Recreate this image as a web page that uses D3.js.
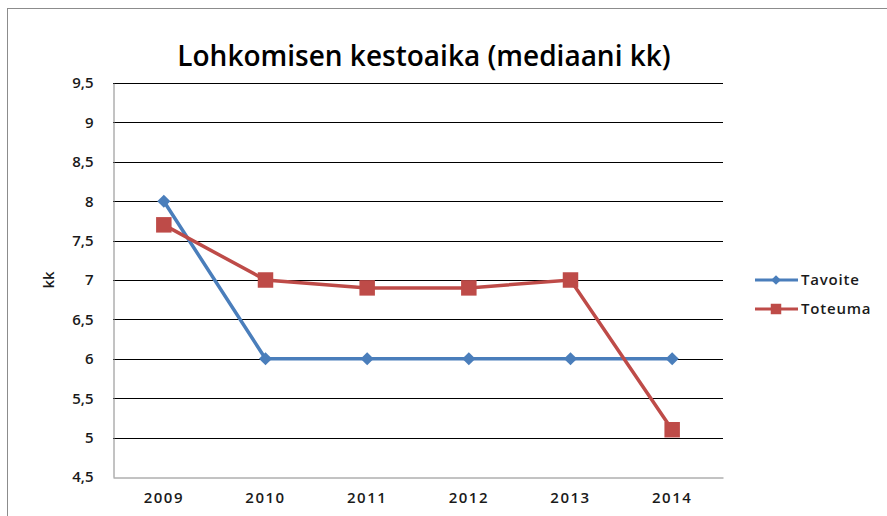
<!DOCTYPE html>
<html>
<head>
<meta charset="utf-8">
<script src="https://cdn.jsdelivr.net/npm/d3@7"></script>
<style>
  body { margin: 0; background: #fff; }
  svg { display: block; }
</style>
</head>
<body>
<div id="output"></div>
<script>
var years = ['2009', '2010', '2011', '2012', '2013', '2014'];
var tavoite = [8, 6, 6, 6, 6, 6];
var toteuma = [7.7, 7.0, 6.9, 6.9, 7.0, 5.1];
var yTicks = [4.5, 5, 5.5, 6, 6.5, 7, 7.5, 8, 8.5, 9, 9.5];

var width = 887;
var height = 516;
var font = "'Open Sans', 'DejaVu Sans', sans-serif";

var svg = d3.select('#output')
  .append('svg')
  .attr('width', width)
  .attr('height', height);

// outer chart border (runs off the right/bottom of the window)
svg.append('rect')
  .attr('x', 7.5).attr('y', 8.5)
  .attr('width', 900).attr('height', 600)
  .attr('fill', 'none')
  .attr('stroke', '#8c8c8c');

var xScale = d3.scaleBand()
  .domain(years)
  .range([113, 723]);

var yScale = d3.scaleLinear()
  .domain([4.5, 9.5])
  .range([477, 83]);

// gridlines
svg.append('g')
  .selectAll('line')
  .data(yTicks.slice(1))
  .enter()
  .append('line')
  .attr('x1', 113).attr('x2', 723)
  .attr('y1', (d) => Math.round(yScale(d)) + 0.5)
  .attr('y2', (d) => Math.round(yScale(d)) + 0.5)
  .attr('stroke', '#000');

// y axis
var yAxis = d3.axisLeft(yScale)
  .tickValues(yTicks)
  .tickSize(0)
  .tickPadding(20)
  .tickFormat((d) => String(d).replace('.', ','));

var gy = svg.append('g')
  .attr('transform', 'translate(113.5, 0)')
  .call(yAxis);
gy.select('.domain').attr('stroke', '#868686');
gy.selectAll('text')
  .attr('font-family', font)
  .attr('font-size', 15)
  .attr('font-weight', 600)
  .attr('fill', '#1a1a1a');

// x axis
var xAxis = d3.axisBottom(xScale).tickSize(0).tickPadding(15);
var gx = svg.append('g')
  .attr('transform', 'translate(0, 477.5)')
  .call(xAxis);
gx.select('.domain').attr('stroke', '#868686');
gx.selectAll('text')
  .attr('font-family', font)
  .attr('font-size', 15)
  .attr('font-weight', 600)
  .attr('letter-spacing', 1.5)
  .attr('fill', '#1a1a1a');

// title
svg.append('text')
  .attr('x', 424).attr('y', 66)
  .attr('text-anchor', 'middle')
  .attr('font-family', font)
  .attr('font-size', 28)
  .attr('font-weight', 600)
  .attr('fill', '#000')
  .text('Lohkomisen kestoaika (mediaani kk)');

// y axis title
svg.append('text')
  .attr('transform', 'translate(54, 280) rotate(-90)')
  .attr('text-anchor', 'middle')
  .attr('font-family', font)
  .attr('font-size', 15)
  .attr('font-weight', 600)
  .attr('fill', '#1a1a1a')
  .text('kk');

var cx = (d, i) => xScale(years[i]) + xScale.bandwidth() / 2;
var line = d3.line().x(cx).y((d) => yScale(d));

var blue = '#4a7ebb';
var red = '#be4b48';

svg.append('path')
  .datum(tavoite)
  .attr('d', line)
  .attr('fill', 'none')
  .attr('stroke', blue)
  .attr('stroke-width', 3.5);

svg.append('path')
  .datum(toteuma)
  .attr('d', line)
  .attr('fill', 'none')
  .attr('stroke', red)
  .attr('stroke-width', 3.5);

var diamond = d3.symbol().type(d3.symbolDiamond2).size(110);
var square = d3.symbol().type(d3.symbolSquare).size(240);

svg.append('g')
  .selectAll('path')
  .data(tavoite)
  .enter()
  .append('path')
  .attr('d', diamond)
  .attr('transform', (d, i) => 'translate(' + cx(d, i) + ',' + yScale(d) + ')')
  .attr('fill', blue);

svg.append('g')
  .selectAll('path')
  .data(toteuma)
  .enter()
  .append('path')
  .attr('d', square)
  .attr('transform', (d, i) => 'translate(' + cx(d, i) + ',' + yScale(d) + ')')
  .attr('fill', red);

// legend
var legend = [
  { name: 'Tavoite', color: blue, sym: d3.symbol().type(d3.symbolDiamond2).size(60), y: 280 },
  { name: 'Toteuma', color: red, sym: d3.symbol().type(d3.symbolSquare).size(110), y: 309 }
];
var lg = svg.append('g')
  .selectAll('g')
  .data(legend)
  .enter()
  .append('g')
  .attr('transform', (d) => 'translate(755,' + d.y + ')');
lg.append('line')
  .attr('x1', 0).attr('x2', 43)
  .attr('stroke', (d) => d.color)
  .attr('stroke-width', 3);
lg.append('path')
  .attr('d', (d) => d.sym())
  .attr('transform', 'translate(21,0)')
  .attr('fill', (d) => d.color);
lg.append('text')
  .attr('x', 46).attr('dy', '0.35em')
  .attr('font-family', font)
  .attr('font-size', 15)
  .attr('font-weight', 600)
  .attr('letter-spacing', 0.8)
  .attr('fill', '#1a1a1a')
  .text((d) => d.name);
</script>
</body>
</html>
